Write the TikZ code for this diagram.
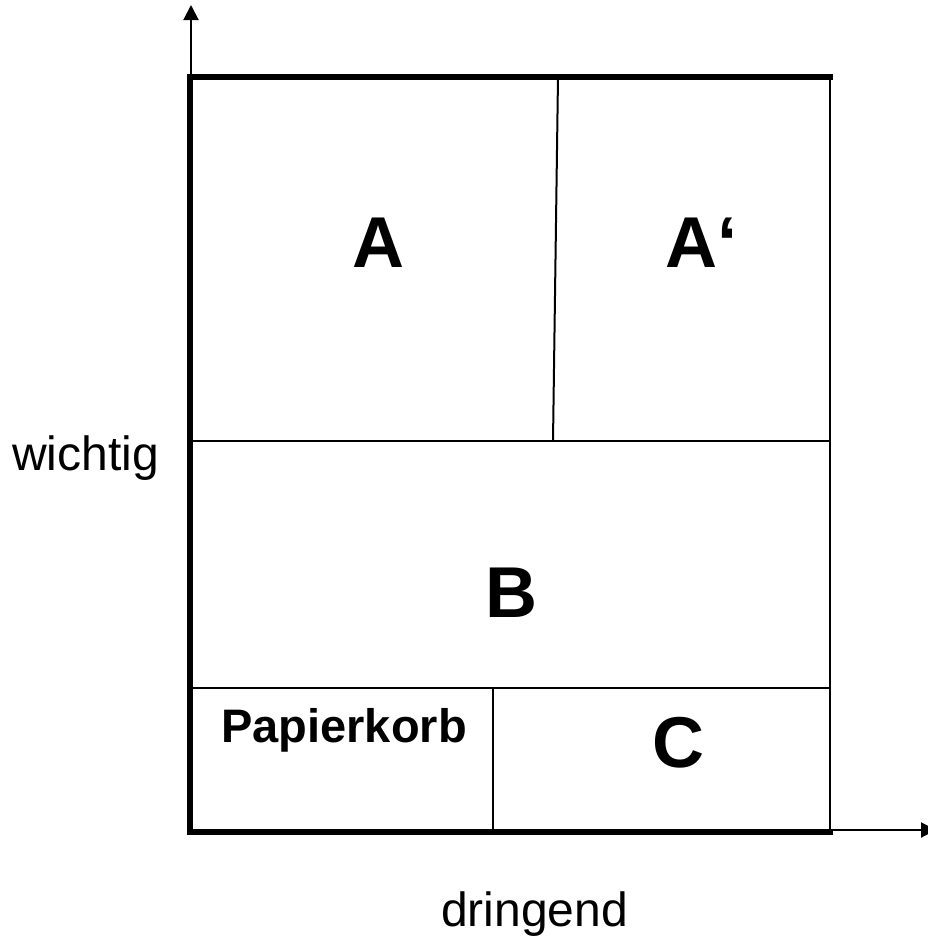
\documentclass[tikz,border=0pt]{standalone}
\usepackage{fontspec}
\setmainfont{Liberation Sans}
\usetikzlibrary{arrows.meta}
\begin{document}
\begin{tikzpicture}[x=1pt,y=-1pt,
  frame/.style={line width=6pt},
  divider/.style={line width=2pt},
  axis/.style={line width=2pt,-{Triangle[width=15pt,length=15pt]}},
  field/.style={inner sep=0pt,anchor=base,font=\bfseries\fontsize{72}{80}\selectfont},
  axislabel/.style={inner sep=0pt,anchor=base west,font=\fontsize{48}{56}\selectfont}]
\useasboundingbox (0,0) rectangle (928,937);
% corners of the matrix
\coordinate (tl) at (190,77);
\coordinate (tr) at (830,77);
\coordinate (bl) at (190,832);
\coordinate (br) at (830,832);
% divider end points
\coordinate (midL) at (190,441);
\coordinate (midR) at (830,441);
\coordinate (lowL) at (190,688);
\coordinate (lowR) at (830,688);
\coordinate (splitTop) at (558,77);
\coordinate (splitMid) at (553,441);
\coordinate (cutTop) at (493,688);
\coordinate (cutBot) at (493,832);
% axis end points
\coordinate (yend) at (191,5);
\coordinate (xstart) at (830,830);
\coordinate (xend) at (936,830);
% axes
\draw[axis] (191,77) -- (yend);
\draw[axis] (xstart) -- (xend);
% inner dividers
\draw[divider] (tr) -- (br);
\draw[divider] (midL) -- (midR);
\draw[divider] (lowL) -- (lowR);
\draw[divider] (splitTop) -- (splitMid);
\draw[divider] (cutTop) -- (cutBot);
% outer frame
\draw[frame] (190,74) -- (190,835);
\draw[frame] (187,77) -- (833,77);
\draw[frame] (187,832) -- (833,832);
% field labels
\node[field] (A) at (378,267) {A};
\node[field,anchor=base west] (A2) at (665,267) {A‘};
\node[field] (B) at (511,617) {B};
\node[field] (C) at (678,767) {C};
\node[inner sep=0pt,anchor=base west,font=\bfseries\fontsize{47}{54}\selectfont] (P) at (221,742) {Papierkorb};
% axis labels
\node[axislabel] (wichtig) at (12,470) {wichtig};
\node[axislabel] (dringend) at (441,926) {dringend};
\end{tikzpicture}
\end{document}
